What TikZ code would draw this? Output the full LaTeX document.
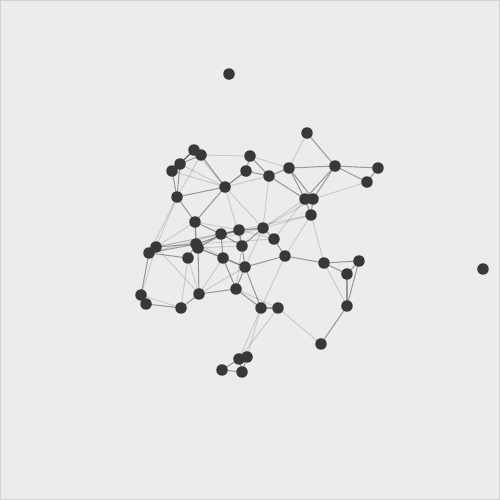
\documentclass[tikz,border=0pt]{standalone}
\begin{document}
\begin{tikzpicture}[x=0.02cm,y=-0.02cm,
  nd/.style={circle,fill=black!78,inner sep=0pt,minimum size=0.23cm},
  ed/.style={draw=black,opacity=0.35,line width=0.6pt},
  el/.style={draw=black,opacity=0.14,line width=0.55pt}]
\fill[fill=black!7.5,draw=black!18,line width=0.6pt] (0.5,0.5) rectangle (499.5,499.5);
\useasboundingbox (0,0) rectangle (500,500);
\foreach \n/\x/\y in {1/229/74,2/307/133,3/335/166,4/378/168,5/367/182,6/289/168,7/250/156,8/246/171,9/269/176,10/305/199,11/313/199,12/311/215,13/194/150,14/201/155,15/180/164,16/172/171,17/225/187,18/177/197,19/195/222,20/221/234,21/239/230,22/263/228,23/274/239,24/242/246,25/196/244,26/198/248,27/156/247,28/149/253,29/188/258,30/223/258,31/245/267,32/285/256,33/324/263,34/359/261,35/347/274,36/347/306,37/321/344,38/483/269,39/141/295,40/146/304,41/181/308,42/199/294,43/236/289,44/261/308,45/278/308,46/239/359,47/247/357,48/222/370,49/242/372}
  \coordinate (c\n) at (\x,\y);
\foreach \a/\b in {13/14,13/15,14/15,15/16,16/18,15/18,14/17,17/18,17/8,8/7,7/9,8/9,9/6,6/10,6/11,6/3,2/3,3/4,3/5,4/5,3/10,3/11,10/11,10/12,11/12,9/10,17/19,18/19,19/20,19/25,20/21,20/24,20/30,21/22,21/24,22/23,22/24,23/32,24/31,30/31,25/29,26/42,27/25,27/28,28/25,28/29,28/39,39/40,40/41,41/42,42/43,30/43,31/43,31/32,43/44,44/45,32/33,33/34,33/35,34/35,35/36,34/36,36/37,46/47,46/48,47/49,48/49,46/49,25/21,26/30,20/26,13/16,31/44}
  \draw[ed] (c\a) -- (c\b);
\foreach \a/\b in {14/7,7/6,2/6,5/11,12/33,12/22,10/22,17/16,17/15,17/13,17/24,17/22,18/28,19/27,19/21,20/22,22/31,25/22,27/39,39/41,29/41,45/37,44/46,44/47,45/46,32/44,12/32,9/22,8/17,17/9,20/27,26/24,25/23,42/30,21/23,26/31,11/22,10/23,33/36,14/18,29/42,27/42,21/12,24/43,25/31,43/45,16/13,19/26,27/21,28/20,18/27,42/31}
  \draw[el] (c\a) -- (c\b);
\foreach \n in {1,...,49}
  \node[nd] (n\n) at (c\n) {};
\end{tikzpicture}
\end{document}
